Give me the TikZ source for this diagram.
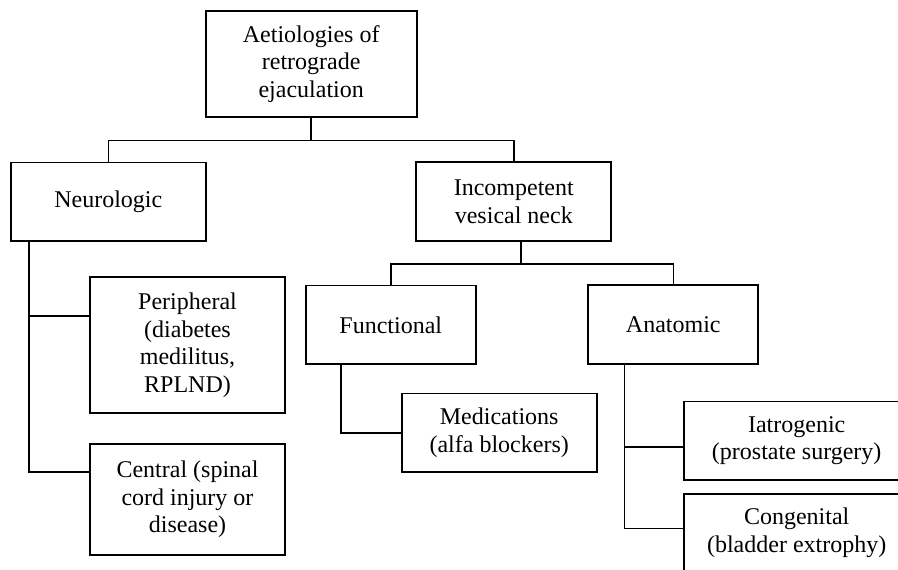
\documentclass[tikz,border=0pt]{standalone}
\usepackage{fontspec}
\setmainfont{Liberation Serif}

\tikzset{
  cause/.style={draw, line width=0.9pt, align=center, inner sep=0pt,
    minimum width=97.5pt, minimum height=39.3pt,
    font=\fontsize{12}{13.8}\selectfont},
  link/.style={line width=0.8pt},
}

\begin{document}
\begin{tikzpicture}[x=0.5pt, y=-0.5pt]
    \useasboundingbox (0,0) rectangle (898,569);
    \clip (0,0) rectangle (898,569);

    \node[cause, minimum width=105.5pt, minimum height=53.3pt] (root) at (311.2,64) {Aetiologies of\\retrograde\\ejaculation};
    \node[cause, minimum height=39.1pt] (neuro) at (108.3,201.6) {Neurologic};
    \node[cause, minimum height=39.5pt] (incomp) at (513.8,201.8) {Incompetent\\vesical neck};

    \node[cause, minimum height=68pt] (periph) at (187.5,345.3) {Peripheral\\(diabetes\\medilitus,\\RPLND)};
    \node[cause, minimum height=55.3pt] (central) at (187.5,499.3) {Central (spinal\\cord injury or\\disease)};

    \node[cause, minimum width=84.9pt] (func) at (390.8,324.8) {Functional};
    \node[cause, minimum width=85pt, minimum height=39.5pt] (anat) at (673.3,324.8) {Anatomic};
    \node[cause] (medic) at (499.2,432.8) {Medications\\(alfa blockers)};

    \node[cause, minimum width=112.5pt] (iatro) at (796.7,440.8) {Iatrogenic\\(prostate surgery)};
    \node[cause, minimum width=112.5pt] (cong) at (796.7,533) {Congenital\\(bladder extrophy)};

    \draw[link] (root.south) -- ++(0,22.2) -| (neuro.north);
    \draw[link] (root.south) -- ++(0,22.2) -| (incomp.north);
    \draw[link] ([xshift=3.5pt]incomp.south) -- ++(0,21.7) -| (func.north);
    \draw[link] ([xshift=3.5pt]incomp.south) -- ++(0,21.7) -| (anat.north);

    \draw[link] ([xshift=9.5pt]neuro.south west) |- ([yshift=14.6pt]periph.west);
    \draw[link] ([xshift=9.5pt]neuro.south west) |- ([yshift=13.8pt]central.west);
    \draw[link] ([xshift=18pt]func.south west) |- (medic.west);
    \draw[link] ([xshift=18.5pt]anat.south west) |- ([yshift=-3pt]iatro.west);
    \draw[link] ([xshift=18.5pt]anat.south west) |- ([yshift=2.3pt]cong.west);
  \end{tikzpicture}
\end{document}
